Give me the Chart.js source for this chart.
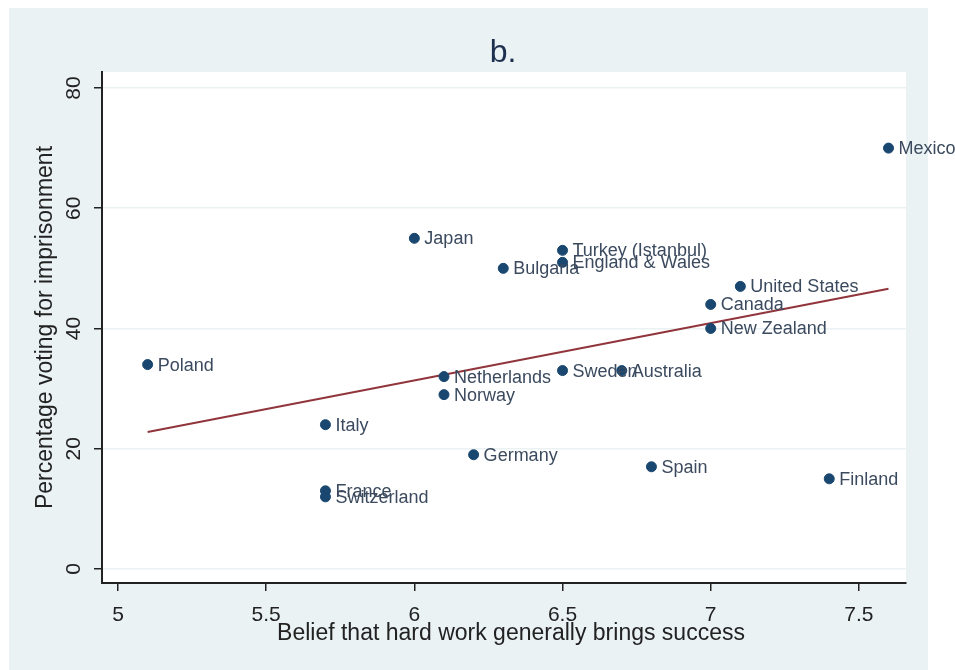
<!DOCTYPE html>
<html>
<head>
<meta charset="utf-8">
<script src="https://cdn.jsdelivr.net/npm/chart.js@4.4.0/dist/chart.umd.min.js"></script>
<style>
  html, body { margin: 0; padding: 0; background: #fff; }
  canvas { display: block; }
</style>
</head>
<body>
<canvas id="chart" width="955" height="670"></canvas>
<script>
// dados
const countries = ['Poland', 'Italy', 'France', 'Switzerland', 'Japan', 'Netherlands', 'Norway',
  'Germany', 'Bulgaria', 'Turkey (Istanbul)', 'England & Wales', 'Sweden', 'Australia', 'Spain',
  'Canada', 'New Zealand', 'United States', 'Finland', 'Mexico'];
const belief = [5.1, 5.7, 5.7, 5.7, 6.0, 6.1, 6.1, 6.2, 6.3, 6.5, 6.5, 6.5, 6.7, 6.8, 7.0, 7.0, 7.1, 7.4, 7.6];
const pctPrison = [34, 24, 13, 12, 55, 32, 29, 19, 50, 53, 51, 33, 33, 17, 44, 40, 47, 15, 70];
const fitX = [5.1, 7.6];
const fitY = [22.8, 46.6];
const xTicks = [5, 5.5, 6, 6.5, 7, 7.5];
const yTicks = [0, 20, 40, 60, 80];

const titleText = 'b.';
const xTitle = 'Belief that hard work generally brings success';
const yTitle = 'Percentage voting for imprisonment';

const navy = '#1a476f';
const maroon = '#90353b';
const panelColor = '#eaf2f3';
const fontFamily = 'Arial, "Liberation Sans", sans-serif';

const scatterPoints = belief.map((b, i) => ({ x: b, y: pctPrison[i] }));
const fitPoints = fitX.map((x, i) => ({ x: x, y: fitY[i] }));

// Fundo, títulos, rótulos
const stataPlugin = {
  id: 'stata',
  beforeDraw(chart) {
    const { ctx, chartArea } = chart;
    ctx.save();
    ctx.fillStyle = '#ffffff';
    ctx.fillRect(0, 0, chart.width, chart.height);
    ctx.fillStyle = panelColor;
    ctx.fillRect(9, 8, 919, 662);
    ctx.fillStyle = '#ffffff';
    ctx.fillRect(chartArea.left, chartArea.top, chartArea.right - chartArea.left, chartArea.bottom - chartArea.top);
    ctx.restore();
  },
  afterDatasetsDraw(chart) {
    const { ctx } = chart;
    const meta = chart.getDatasetMeta(0);
    ctx.save();
    ctx.font = '18px ' + fontFamily;
    ctx.fillStyle = '#3b4a5e';
    ctx.textAlign = 'left';
    ctx.textBaseline = 'middle';
    meta.data.forEach((pt, i) => {
      ctx.fillText(countries[i], pt.x + 10, pt.y + 1);
    });
    ctx.restore();
  },
  afterDraw(chart) {
    const { ctx, chartArea } = chart;
    const xs = chart.scales.x;
    const ys = chart.scales.y;
    ctx.save();
    // título
    ctx.fillStyle = '#1e3050';
    ctx.font = '32px ' + fontFamily;
    ctx.textAlign = 'center';
    ctx.textBaseline = 'alphabetic';
    ctx.fillText(titleText, 503, 62);

    // rótulos do eixo x
    ctx.fillStyle = '#222';
    ctx.font = '21px ' + fontFamily;
    xTicks.forEach(v => {
      ctx.fillText(String(v), xs.getPixelForValue(v), 621);
    });
    // rótulos do eixo y (rotacionados)
    yTicks.forEach(v => {
      ctx.save();
      ctx.translate(80, ys.getPixelForValue(v));
      ctx.rotate(-Math.PI / 2);
      ctx.fillText(String(v), 0, 0);
      ctx.restore();
    });

    // títulos dos eixos
    ctx.font = '23px ' + fontFamily;
    ctx.fillText(xTitle, 511, 640);
    ctx.save();
    ctx.translate(52, (chartArea.top + chartArea.bottom) / 2);
    ctx.rotate(-Math.PI / 2);
    ctx.fillText(yTitle, 0, 0);
    ctx.restore();
    ctx.restore();
  }
};

const ctx = document.getElementById('chart').getContext('2d');
const chart = new Chart(ctx, {
  type: 'scatter',
  data: {
    datasets: [{
      label: 'countries',
      data: scatterPoints,
      backgroundColor: navy,
      borderColor: navy,
      pointRadius: 5,
      pointHoverRadius: 5
    }, {
      type: 'line',
      label: 'fit',
      data: fitPoints,
      borderColor: maroon,
      borderWidth: 2,
      pointRadius: 0,
      fill: false
    }]
  },
  options: {
    responsive: false,
    animation: false,
    devicePixelRatio: 1,
    layout: { padding: { top: 72, right: 49, left: 0, bottom: 0 } },
    plugins: {
      legend: { display: false },
      tooltip: { enabled: false },
      title: { display: false }
    },
    scales: {
      x: {
        type: 'linear',
        min: 4.946,
        max: 7.659,
        afterBuildTicks: s => { s.ticks = xTicks.map(v => ({ value: v })); },
        afterFit: s => { s.height = 87; },
        ticks: { display: false },
        grid: { drawOnChartArea: false, drawTicks: true, tickLength: 8, tickColor: '#222', lineWidth: 1.5 },
        border: { color: '#222', width: 2 }
      },
      y: {
        type: 'linear',
        min: -2.33,
        max: 82.66,
        afterBuildTicks: s => { s.ticks = yTicks.map(v => ({ value: v })); },
        afterFit: s => { s.width = 102; },
        ticks: { display: false },
        grid: { drawOnChartArea: true, color: panelColor, lineWidth: 1.5, drawTicks: true, tickLength: 8, tickColor: '#222' },
        border: { color: '#222', width: 2 }
      }
    }
  },
  plugins: [stataPlugin]
});
</script>
</body>
</html>
